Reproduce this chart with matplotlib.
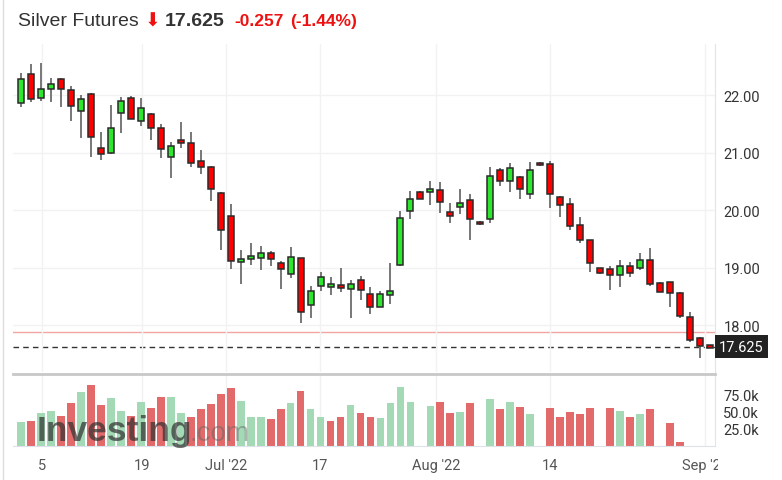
import numpy as np
import matplotlib.pyplot as plt
from matplotlib.transforms import Bbox, TransformedBbox, blended_transform_factory

plt.rcParams['font.family'] = ['Roboto', 'DejaVu Sans']

# daily OHLC (index = candle position)
opens = [21.86, 22.37, 21.95, 22.10, 22.28, 22.09, 21.73, 22.02, 21.08, 21.00,
         21.68, 21.95, 21.54, 21.67, 21.43, 20.93, 21.21, 21.17, 20.85, 20.74,
         20.30, 19.89, 19.10, 19.14, 19.16, 19.26, 19.07, 18.88, 19.17, 18.34,
         18.68, 18.66, 18.69, 18.62, 18.78, 18.54, 18.32, 18.53, 19.04, 19.99,
         20.32, 20.31, 20.34, 19.96, 20.06, 20.17, 19.80, 19.84, 20.69, 20.51,
         20.58, 20.27, 20.82, 20.80, 20.23, 20.10, 19.74, 19.48, 18.99, 18.97,
         18.87, 19.02, 18.99, 19.13, 18.73, 18.75, 18.56, 18.14, 17.77, 17.645]
highs = [22.38, 22.54, 22.56, 22.30, 22.30, 22.16, 22.00, 22.03, 21.35, 21.83,
         21.97, 21.98, 21.94, 21.69, 21.49, 21.19, 21.53, 21.35, 21.05, 20.77,
         20.31, 20.10, 19.31, 19.43, 19.38, 19.28, 19.11, 19.35, 19.17, 18.67,
         18.93, 18.83, 19.00, 18.79, 18.85, 18.66, 18.59, 19.07, 19.98, 20.33,
         20.33, 20.51, 20.48, 20.13, 20.37, 20.27, 19.81, 20.74, 20.73, 20.81,
         20.60, 20.83, 20.83, 20.85, 20.25, 20.21, 19.87, 19.48, 19.00, 19.03,
         19.13, 19.09, 19.25, 19.34, 18.74, 18.75, 18.58, 18.22, 17.79, 17.65]
lows = [21.80, 21.87, 21.90, 21.87, 21.80, 21.54, 21.25, 20.93, 20.87, 20.97,
        21.34, 21.58, 21.46, 21.22, 20.91, 20.56, 21.08, 20.74, 20.63, 20.15,
        19.30, 18.97, 18.71, 19.04, 18.96, 19.02, 18.63, 18.81, 18.03, 18.12,
        18.59, 18.53, 18.57, 18.13, 18.43, 18.19, 18.31, 18.37, 19.02, 19.84,
        20.20, 20.09, 19.94, 19.77, 19.93, 19.48, 19.74, 19.77, 20.41, 20.32,
        20.19, 20.19, 20.77, 20.03, 19.87, 19.65, 19.42, 18.93, 18.88, 18.61,
        18.66, 18.83, 18.96, 18.68, 18.57, 18.31, 18.13, 17.71, 17.42, 17.62]
closes = [22.28, 21.93, 22.11, 22.19, 22.10, 21.81, 21.93, 21.27, 20.97, 21.43,
          21.89, 21.59, 21.77, 21.43, 21.06, 21.12, 21.16, 20.82, 20.75, 20.37,
          19.66, 19.12, 19.15, 19.20, 19.25, 19.14, 18.97, 19.19, 18.23, 18.59,
          18.84, 18.71, 18.64, 18.71, 18.61, 18.32, 18.54, 18.60, 19.86, 20.19,
          20.20, 20.37, 20.14, 19.90, 20.13, 19.84, 19.75, 20.60, 20.50, 20.73,
          20.37, 20.69, 20.78, 20.28, 20.09, 19.73, 19.47, 19.07, 18.90, 18.87,
          19.02, 18.90, 19.13, 18.71, 18.58, 18.56, 18.16, 17.74, 17.63, 17.625]
# volume in thousands, None where no bar is drawn
volumes = [35, 36.5, 47.5, 51, 44, 62.5, 78, 87.5, 58.5, 69,
           51, 44, 64, 55, 71, 71, 47.5, 42, 53, 60.5,
           75, 83.5, 65, 42, 42, 39, 53, 62.5, 80, 53,
           42, 36.5, 42, 58.5, 48, 42, 40, 62.5, 85.5, 64,
           None, 58, 64, 48, 49.5, 62.5, None, 68, 53, 64,
           56.5, 46, None, 55, 42, 49.5, 46, 55, None, 55,
           51, 42, 46, 53, None, 33.5, 6, None, None, None]

last_price = 17.625
prev_close = 17.882
price_ticks = [18, 19, 20, 21, 22]
vol_ticks = [25, 50, 75]
date_pos = [2.07, 12.08, 20.5, 29.9, 41.6, 53.0, 68.5]
date_labels = ['5', '19', "Jul '22", '17', "Aug '22", '14', "Sep '22"]

W, H = 782, 481
fig = plt.figure(figsize=(W / 100, H / 100), dpi=100)


def box(left, top, right, bottom):
    return [left / W, 1 - bottom / H, (right - left) / W, (bottom - top) / H]


ax = fig.add_axes(box(13, 45, 715, 373))
axv = fig.add_axes(box(13, 375, 715, 447), sharex=ax)

x = np.arange(len(opens))
o, h, l, c = map(np.array, (opens, highs, lows, closes))
up = c >= o
body = np.where(np.abs(c - o) < 0.04, 0.04 * np.where(up, 1, -1), c - o)

ax.vlines(x, l, h, color='#777777', lw=1.4, zorder=2)
ax.bar(x, body, bottom=o, width=0.6, color=np.where(up, '#2ee62e', '#ff0000'),
       edgecolor='#2a2a2a', linewidth=1.1, zorder=3)

ax.axhline(prev_close, color='#f2a4a4', lw=1, zorder=1)
ax.axhline(last_price, color='#333333', lw=1, ls=(0, (4, 3)), zorder=1)

ax.set_xlim(-0.8, 69.5)
ax.set_ylim(17.183, 22.887)
ax.set_yticks(price_ticks)
ax.set_yticklabels([f'{v:.2f}' for v in price_ticks])
ax.yaxis.tick_right()
ax.tick_params(axis='y', length=0, pad=6, labelsize=10.5, labelcolor='#333333')
ax.tick_params(axis='x', length=0, labelbottom=False)
ax.set_xticks(date_pos)
ax.grid(True, color='#f2f2f2', lw=1)
for s in ['top', 'left', 'bottom']:
    ax.spines[s].set_visible(False)
ax.spines['right'].set_color('#e4e4e4')

tr = blended_transform_factory(ax.transAxes, ax.transData)
ax.text(1.006, last_price, '17.625', transform=tr, color='white', fontsize=10.5,
        va='center', ha='left', clip_on=False,
        bbox=dict(facecolor='#222222', edgecolor='none', pad=3.2))

# volume panel
vidx = [i for i, v in enumerate(volumes) if v is not None]
vval = [volumes[i] for i in vidx]
vcol = ['#a3d9b4' if i == 0 or closes[i] >= closes[i - 1] else '#e36a6a' for i in vidx]
axv.bar(vidx, vval, width=0.78, color=vcol, zorder=2)
axv.set_ylim(0, 103.9)
axv.set_yticks(vol_ticks)
axv.set_yticklabels([f'{v:.1f}k' for v in vol_ticks])
axv.yaxis.tick_right()
axv.tick_params(axis='y', length=0, pad=6, labelsize=10.5, labelcolor='#333333')
axv.set_xticks(date_pos)
axv.set_xticklabels(date_labels)
axv.tick_params(axis='x', length=0, pad=9, labelsize=10.5, labelcolor='#555555')
axv.grid(True, axis='x', color='#f0f0f0', lw=1)
axv.spines['left'].set_visible(False)
axv.spines['top'].set_color('#c8c8c8')
axv.spines['top'].set_linewidth(2)
axv.spines['bottom'].set_color('#dde1ea')
axv.spines['right'].set_color('#e4e4e4')

clip = TransformedBbox(Bbox([[0, 0], [718 / W, 1]]), fig.transFigure)
for t in axv.get_xticklabels():
    t.set_clip_box(clip)
    t.set_clip_on(True)

# watermark
fig.text(37 / W, 1 - 441 / H, 'Investing', fontsize=25.5, fontweight='bold',
         family='Liberation Sans', color='#333333', alpha=0.72, va='baseline')
fig.text(190 / W, 1 - 441 / H, '.com', fontsize=20, family='Liberation Sans',
         color='#666666', alpha=0.5, va='baseline')

# header
fig.text(18 / W, 1 - 26 / H, 'Silver Futures', fontsize=14, family='Liberation Sans',
         color='#333333', va='baseline')
fig.text(145 / W, 1 - 26.5 / H, '⬇', fontsize=13.5, family='DejaVu Sans',
         color='#ee1111', va='baseline')
fig.text(165 / W, 1 - 26 / H, '17.625', fontsize=14, fontweight='bold',
         family='Liberation Sans', color='#333333', va='baseline')
fig.text(234 / W, 1 - 26 / H, '-0.257', fontsize=12.5, fontweight='bold',
         family='Liberation Sans', color='#ee1111', va='baseline')
fig.text(290 / W, 1 - 26 / H, '(-1.44%)', fontsize=12.5, fontweight='bold',
         family='Liberation Sans', color='#ee1111', va='baseline')

fig.add_artist(plt.Line2D([3 / W, 3 / W], [0, 1], color='#dddddd', lw=1))

fig.savefig('out.png', dpi=100)
